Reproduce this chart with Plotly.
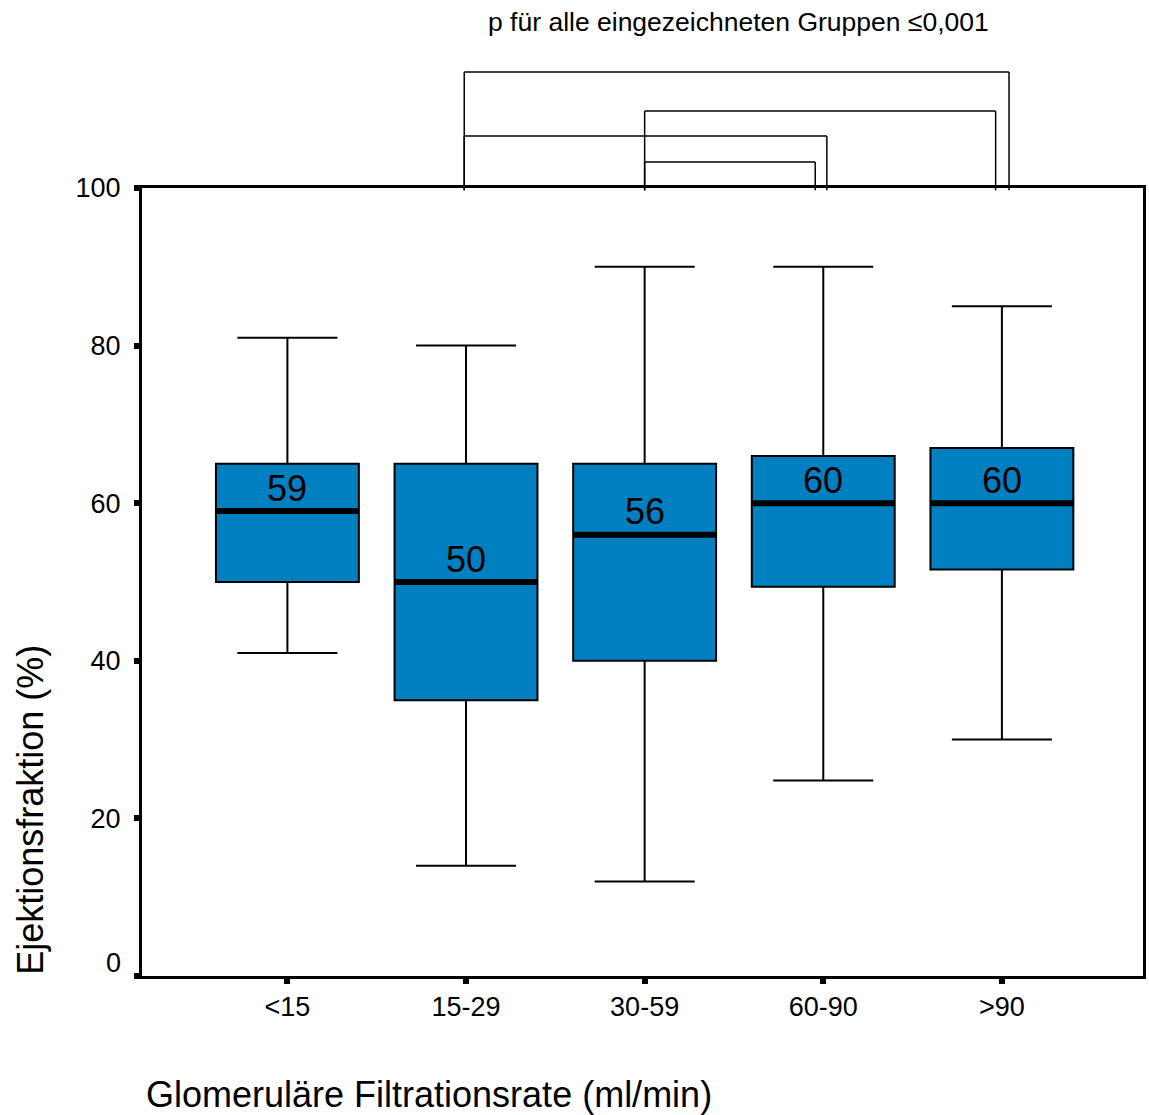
import plotly.graph_objects as go

categories = ["<15", "15-29", "30-59", "60-90", ">90"]
q1 = [50, 35, 40, 49.4, 51.6]
median = [59, 50, 56, 60, 60]
q3 = [65, 65, 65, 66, 67]
lower = [41, 14, 12, 24.8, 30]
upper = [81, 80, 90, 90, 85]
median_labels = ["59", "50", "56", "60", "60"]
y_ticks = [0, 20, 40, 60, 80, 100]
# significance brackets: (left group, right group)
brackets = [("15-29", ">90"), ("30-59", ">90"), ("15-29", "60-90"), ("30-59", "60-90")]

FONT = "Liberation Sans, Arial, sans-serif"
BOXW = 0.8
xpos = list(range(len(categories)))

fig = go.Figure()
for i, c in enumerate(categories):
    fig.add_trace(go.Box(
        x=[xpos[i]], q1=[q1[i]], median=[median[i]], q3=[q3[i]],
        lowerfence=[lower[i]], upperfence=[upper[i]],
        width=BOXW, whiskerwidth=0.7,
        fillcolor="#0080C0", line=dict(color="black", width=2),
        boxpoints=False, showlegend=False, hoverinfo="skip"))
    fig.add_trace(go.Scatter(
        x=[xpos[i] - BOXW / 2, xpos[i] + BOXW / 2], y=[median[i], median[i]],
        mode="lines", line=dict(color="black", width=6),
        showlegend=False, hoverinfo="skip"))
    fig.add_annotation(x=xpos[i], y=median[i], text=median_labels[i],
                       showarrow=False, xanchor="center", yanchor="middle", yshift=23,
                       font=dict(family=FONT, size=36, color="black"))

# brackets above plot
levels = [1.1472, 1.0977, 1.066, 1.033]
right_off = [0.04, -0.035, 0.02, -0.045]
left_off = [-0.01, 0.0, -0.01, 0.0]
for k, (a, b) in enumerate(brackets):
    xa = categories.index(a) + left_off[k]
    xb = categories.index(b) + right_off[k]
    for seg in [(xa, 0.997, xa, levels[k]), (xa, levels[k], xb, levels[k]), (xb, levels[k], xb, 0.997)]:
        fig.add_shape(type="line", xref="x", yref="paper",
                      x0=seg[0], y0=seg[1], x1=seg[2], y1=seg[3],
                      line=dict(color="black", width=1.5), layer="above")

fig.add_annotation(xref="paper", yref="paper", x=0.5958, y=1.2107, xanchor="center", yanchor="middle",
                   text="p für alle eingezeichneten Gruppen ≤0,001",
                   showarrow=False, font=dict(family=FONT, size=26.5, color="black"))
fig.add_annotation(xref="paper", yref="paper", x=0.2872, y=-0.150, xanchor="center", yanchor="middle",
                   text="Glomeruläre Filtrationsrate (ml/min)",
                   showarrow=False, font=dict(family=FONT, size=36, color="black"))
fig.add_annotation(xref="paper", yref="paper", x=-0.111, y=0.2107, xanchor="center", yanchor="middle",
                   text="Ejektionsfraktion (%)", textangle=-90,
                   showarrow=False, font=dict(family=FONT, size=36, color="black"))
fig.add_annotation(xref="paper", yref="paper", x=-0.0194, y=0.0165, xanchor="right", yanchor="middle",
                   text=str(y_ticks[0]),
                   showarrow=False, font=dict(family=FONT, size=27, color="black"))

fig.update_layout(
    width=1149, height=1115,
    margin=dict(l=141.5, r=3, t=188, b=139),
    paper_bgcolor="white", plot_bgcolor="white",
    font=dict(family=FONT, size=27, color="black"),
    xaxis=dict(range=[-0.814, 4.79], tickvals=xpos, ticktext=categories,
               showgrid=False, zeroline=False, showline=True, linecolor="black", linewidth=2.5,
               mirror=True, ticks="outside", ticklen=5, tickwidth=6, tickcolor="black",
               tickfont=dict(size=27)),
    yaxis=dict(range=[0, 100], tickvals=y_ticks, ticktext=[""] + [str(v) for v in y_ticks[1:]],
               showgrid=False, zeroline=False, showline=True, linecolor="black", linewidth=3,
               mirror=True, ticks="outside", ticklen=5, tickwidth=6, tickcolor="black",
               ticklabelstandoff=8, tickfont=dict(size=27)),
)

fig.write_html("out.html")
